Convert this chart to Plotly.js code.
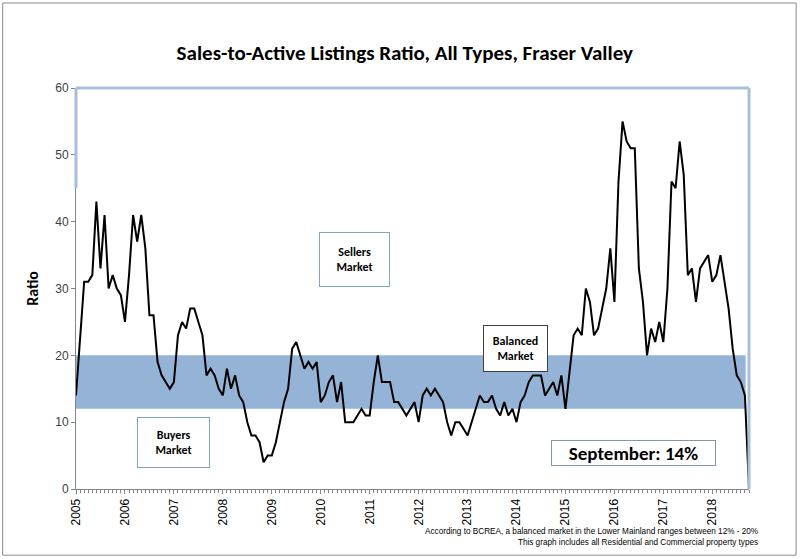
<!DOCTYPE html>
<html>
<head>
<meta charset="utf-8">
<script src="https://cdn.plot.ly/plotly-3.0.1.min.js"></script>
<style>
html,body{margin:0;padding:0;background:#fff;}
#chart{width:800px;height:559px;}
</style>
</head>
<body>
<div id="chart"></div>
<script>
// Monthly sales-to-active listings ratio, Jan 2005 .. Sep 2018 (last entry is the empty Oct 2018 drop)
const ratio = [
  14,23,31,31,32,43,33,41,30,32,30,29,
  25,32,41,37,41,36,26,26,19,17,16,15,
  16,23,25,24,27,27,25,23,17,18,17,15,
  14,18,15,17,14,13,10,8,8,7,4,5,
  5,7,10,13,15,21,22,20,18,19,18,19,
  13,14,16,17,13,16,10,10,10,11,12,11,
  11,16,20,16,16,16,13,13,12,11,12,13,
  10,14,15,14,15,14,13,10,8,10,10,9,
  8,10,12,14,13,13,14,12,11,13,11,12,
  10,13,14,16,17,17,17,14,15,16,14,17,
  12,18,23,24,23,30,28,23,24,27,30,36,
  28,46,55,52,51,51,33,28,20,24,22,25,
  22,30,46,45,52,47,32,33,28,33,34,35,
  31,32,35,31,27,21,17,16,14,
  0
];
const monthIndex = ratio.map((v, i) => i);
const yearLabels = ["2005","2006","2007","2008","2009","2010","2011","2012","2013","2014","2015","2016","2017","2018"];
const yearTicks = yearLabels.map((y, i) => i * 12);
const balancedLow = 12;
const balancedHigh = 20;
const latestLabel = "September: 14%";

const boxFont = "Carlito, Lato, 'Open Sans', sans-serif";
const axisFont = "'Liberation Sans', Arial, sans-serif";

const trace = {
  x: monthIndex,
  y: ratio,
  type: 'scatter',
  mode: 'lines',
  line: {color: '#000000', width: 2},
  hoverinfo: 'skip'
};

const layout = {
  width: 800,
  height: 559,
  margin: {l: 76, r: 51, t: 88, b: 70},
  paper_bgcolor: '#ffffff',
  plot_bgcolor: '#ffffff',
  showlegend: false,
  title: {
    text: '<b>Sales-to-Active Listings Ratio, All Types, Fraser Valley</b>',
    font: {family: boxFont, size: 21, color: '#000000'},
    x: 0.506, xanchor: 'center', y: 0.905, yanchor: 'middle'
  },
  xaxis: {
    range: [0, 165],
    tickvals: yearTicks,
    ticktext: yearLabels,
    tickangle: -90,
    tickfont: {family: axisFont, size: 12, color: '#000000'},
    showgrid: false,
    zeroline: false,
    showline: true,
    linecolor: '#868686',
    linewidth: 1,
    ticks: 'outside',
    ticklen: 4,
    tickcolor: '#868686',
    minor: {dtick: 1, ticks: 'outside', ticklen: 3, tickcolor: '#868686', showgrid: false},
    fixedrange: true
  },
  yaxis: {
    range: [0, 60],
    dtick: 10,
    tickfont: {family: axisFont, size: 12, color: '#404040'},
    showgrid: false,
    zeroline: false,
    showline: true,
    linecolor: '#868686',
    linewidth: 1,
    ticks: 'outside',
    ticklen: 4,
    tickcolor: '#868686',
    title: {text: '<b>Ratio</b>', font: {family: boxFont, size: 16, color: '#000000'}, standoff: 12},
    fixedrange: true
  },
  shapes: [
    // balanced market band
    {type: 'rect', xref: 'paper', yref: 'y', x0: 0, x1: 0.995, y0: balancedLow, y1: balancedHigh,
     fillcolor: '#95B3D7', line: {width: 0}, layer: 'below'},
    // plot area frame (top, right, upper left)
    {type: 'line', xref: 'paper', yref: 'paper', x0: 0, x1: 1, y0: 1, y1: 1, line: {color: '#A7BFDE', width: 3}},
    {type: 'line', xref: 'paper', yref: 'paper', x0: 1, x1: 1, y0: 0, y1: 1, line: {color: '#A7BFDE', width: 3}},
    {type: 'line', xref: 'paper', yref: 'y', x0: 0, x1: 0, y0: 45, y1: 60, line: {color: '#A7BFDE', width: 3}},
    // outer chart border
    {type: 'rect', xref: 'paper', yref: 'paper', x0: -0.109, x1: 1.07, y0: -0.165, y1: 1.212,
     line: {color: '#8c8c8c', width: 1}, fillcolor: 'rgba(0,0,0,0)'}
  ],
  annotations: [
    {x: 68.4, y: 34.4, xref: 'x', yref: 'y', text: '<b>Sellers<br>Market</b>', showarrow: false,
     font: {family: boxFont, size: 12, color: '#000000'}, width: 69, height: 53, borderpad: 0,
     bordercolor: '#7FA7B8', borderwidth: 1, bgcolor: '#ffffff', align: 'center'},
    {x: 23.9, y: 6.96, xref: 'x', yref: 'y', text: '<b>Buyers<br>Market</b>', showarrow: false,
     font: {family: boxFont, size: 12, color: '#000000'}, width: 71, height: 49, borderpad: 0,
     bordercolor: '#7FA7B8', borderwidth: 1, bgcolor: '#ffffff', align: 'center'},
    {x: 107.8, y: 21.0, xref: 'x', yref: 'y', text: '<b>Balanced<br>Market</b>', showarrow: false,
     font: {family: boxFont, size: 12, color: '#000000'}, width: 63, height: 45, borderpad: 0,
     bordercolor: '#404040', borderwidth: 1, bgcolor: '#ffffff', align: 'center'},
    {x: 136.7, y: 5.39, xref: 'x', yref: 'y', text: '<b>' + latestLabel + '</b>', showarrow: false,
     font: {family: boxFont, size: 19, color: '#000000'}, width: 163, height: 24, borderpad: 0,
     bordercolor: '#8497A8', borderwidth: 1, bgcolor: '#ffffff', align: 'center'},
    {x: 1.016, y: -0.09, xref: 'paper', yref: 'paper', xanchor: 'right', yanchor: 'top', showarrow: false,
     align: 'right',
     text: 'According to BCREA, a balanced market in the Lower Mainland ranges between 12% - 20%<br>This graph includes all Residential and Commercial property types',
     font: {family: axisFont, size: 8.2, color: '#000000'}}
  ]
};

Plotly.newPlot('chart', [trace], layout, {staticPlot: true, displayModeBar: false});
</script>
</body>
</html>
